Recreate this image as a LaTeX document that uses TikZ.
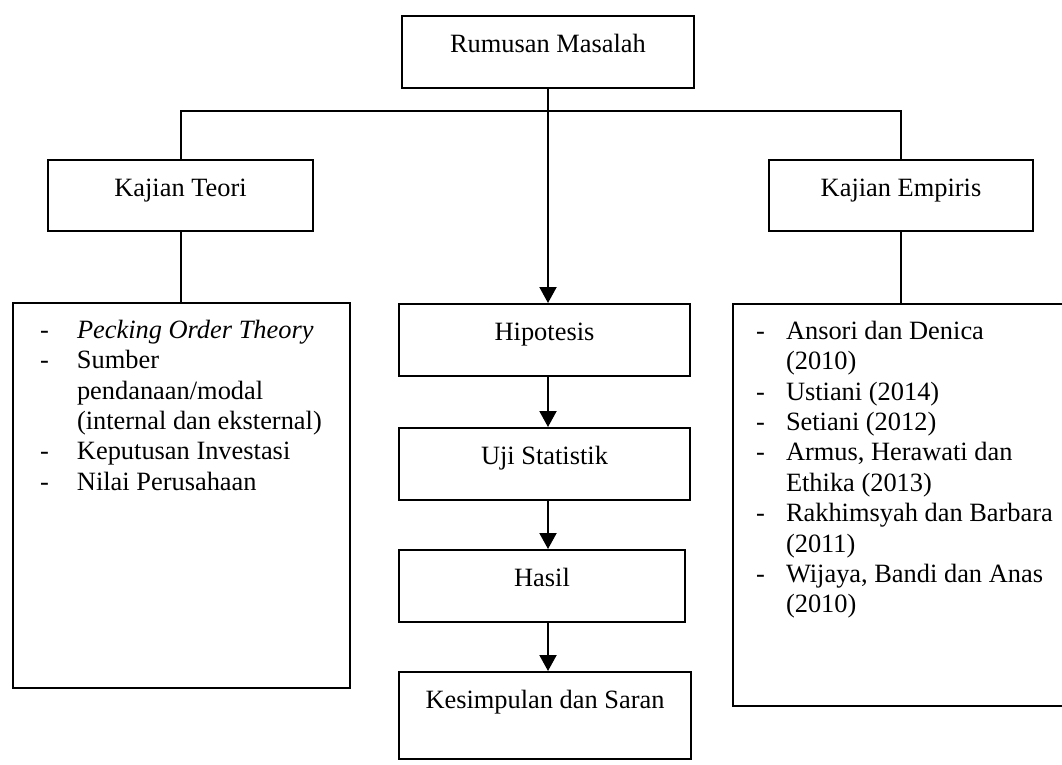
\documentclass[tikz,border=0pt]{standalone}
\usepackage{fontspec}
\setmainfont{Liberation Serif}
\usepackage{tikz}
\usetikzlibrary{arrows.meta,calc}
\tikzset{%
  >={Triangle[width=17pt,length=16pt]},
  % Specifications for style of nodes:
            box/.style = {rectangle, draw=black, line width=2pt,
                          inner sep=0pt, anchor=north west,
                          text height=36.5pt, align=center},
            listtext/.style = {inner sep=0pt, anchor=north west, align=left}
                           }
\newcommand{\dashitem}[1]{\makebox[#1][l]{-}}

\begin{document}
\begin{tikzpicture}[x=1pt, y=-1pt, line width=2pt,
                every node/.style={font=\fontsize{26.4}{30.4}\selectfont}]
                    \useasboundingbox (0,0) rectangle (1062,764);

                    \node (rumusan)    [box, minimum width=292pt, text depth=35.5pt] at (401,15)  {Rumusan Masalah};
                    \node (teori)      [box, minimum width=265pt, text depth=34.5pt] at (47,159)  {Kajian Teori};
                    \node (empiris)    [box, minimum width=264pt, text depth=34.5pt] at (768,159) {Kajian Empiris};
                    \node (teoribox)   [box, minimum width=337pt, minimum height=385pt, text height=0pt, text depth=0pt] at (12,302)  {};
                    \node (empirisbox) [box, minimum width=345pt, minimum height=402pt, text height=0pt, text depth=0pt] at (732,303) {};
                    \node (hipotesis)  [box, minimum width=291pt, text depth=35.5pt] at (398,303) {Hipotesis};
                    \node (uji)        [box, minimum width=291pt, text depth=35.5pt] at (398,427) {Uji Statistik};
                    \node (hasil)      [box, minimum width=286pt, text depth=35.5pt] at (398,549) {Hasil};
                    \node (kesimpulan) [box, minimum width=292pt, text depth=50.5pt] at (398,671) {Kesimpulan dan Saran};

                    \node (teorilist) [listtext] at (39,319) {%
                      \dashitem{37pt}\textit{Pecking Order Theory}\\
                      \dashitem{37pt}Sumber\\
                      \hspace*{37pt}pendanaan/modal\\
                      \hspace*{37pt}(internal dan eksternal)\\
                      \dashitem{37pt}Keputusan Investasi\\
                      \dashitem{37pt}Nilai Perusahaan};
                    \node (empirislist) [listtext] at (755,320) {%
                      \dashitem{30pt}Ansori dan Denica\\
                      \hspace*{30pt}(2010)\\
                      \dashitem{30pt}Ustiani (2014)\\
                      \dashitem{30pt}Setiani (2012)\\
                      \dashitem{30pt}Armus, Herawati dan\\
                      \hspace*{30pt}Ethika (2013)\\
                      \dashitem{30pt}Rakhimsyah dan Barbara\\
                      \hspace*{30pt}(2011)\\
                      \dashitem{30pt}Wijaya, Bandi dan Anas\\
                      \hspace*{30pt}(2010)};

                    \coordinate (branch) at (547,111);
                    \draw (teori.north) |- (branch) -| (empiris.north);
                    \draw (teori.south)   -- (teori.south |- teoribox.north);
                    \draw (empiris.south) -- (empiris.south |- empirisbox.north);

                    \draw[->] (rumusan.south) -- (rumusan.south |- hipotesis.north);
                    \draw[->] (hipotesis.south -| rumusan.south) -- (uji.north -| rumusan.south);
                    \draw[->] (uji.south -| rumusan.south)       -- (hasil.north -| rumusan.south);
                    \draw[->] (hasil.south -| rumusan.south)     -- (kesimpulan.north -| rumusan.south);
                \end{tikzpicture}
\end{document}
